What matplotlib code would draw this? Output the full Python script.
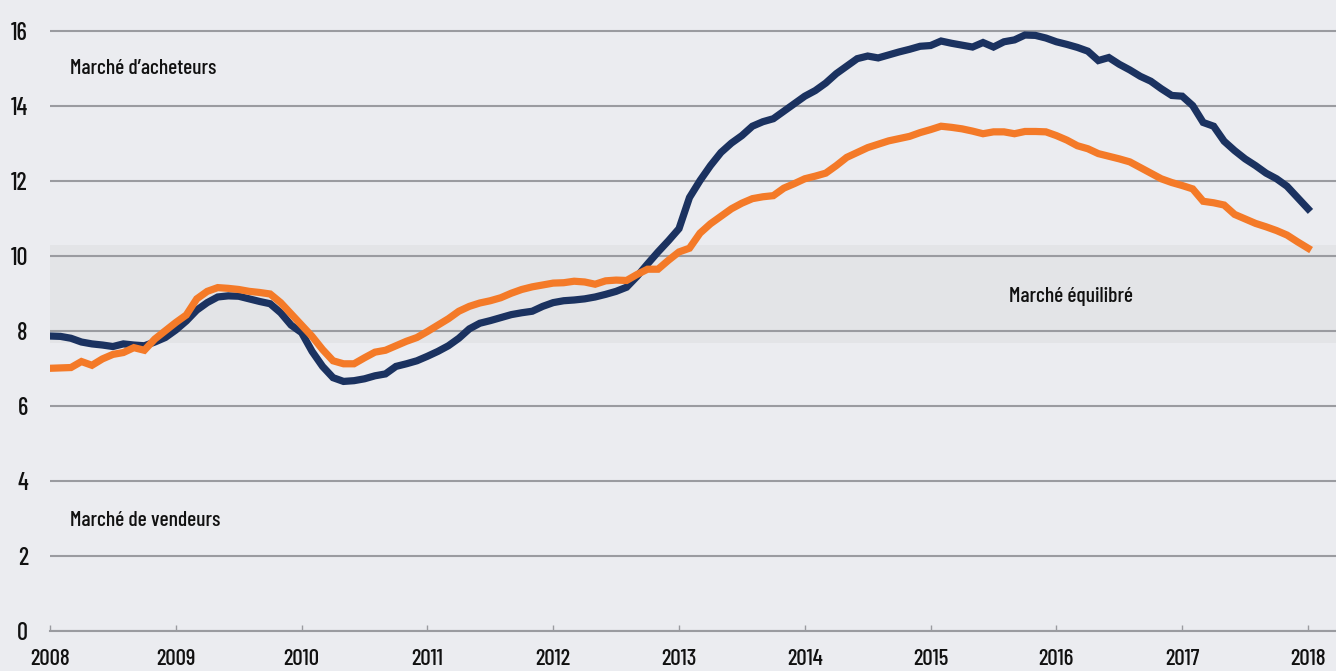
import matplotlib
matplotlib.use("Agg")
import matplotlib.pyplot as plt
import numpy as np

plt.rcParams['font.family'] = ['Barlow Condensed', 'DejaVu Sans']
plt.rcParams['font.weight'] = 'medium'

# Monthly series, Jan 2008 .. Jan 2018
navy_vals = [
    7.86, 7.85, 7.80, 7.70, 7.65, 7.62, 7.58, 7.65, 7.62, 7.60, 7.70, 7.82,   # 2008
    8.02, 8.26, 8.55, 8.75, 8.90, 8.93, 8.92, 8.85, 8.78, 8.72, 8.48, 8.15,   # 2009
    7.95, 7.45, 7.05, 6.75, 6.65, 6.67, 6.72, 6.80, 6.85, 7.05, 7.12, 7.20,   # 2010
    7.32, 7.45, 7.60, 7.80, 8.05, 8.20, 8.27, 8.35, 8.43, 8.48, 8.52, 8.65,   # 2011
    8.75, 8.80, 8.82, 8.85, 8.90, 8.97, 9.05, 9.16, 9.45, 9.78, 10.10, 10.40, # 2012
    10.72, 11.55, 12.00, 12.40, 12.75, 13.00, 13.20, 13.45, 13.57, 13.65, 13.85, 14.05,  # 2013
    14.25, 14.40, 14.60, 14.85, 15.05, 15.25, 15.32, 15.27, 15.35, 15.43, 15.50, 15.58,  # 2014
    15.60, 15.72, 15.66, 15.61, 15.56, 15.68, 15.56, 15.70, 15.75, 15.88, 15.87, 15.80,  # 2015
    15.70, 15.63, 15.55, 15.45, 15.20, 15.28, 15.10, 14.95, 14.78, 14.65, 14.45, 14.27,  # 2016
    14.25, 14.00, 13.55, 13.45, 13.05, 12.80, 12.58, 12.40, 12.20, 12.05, 11.85, 11.55,  # 2017
    11.25,                                                                                  # 2018
]
orange_vals = [
    7.00, 7.01, 7.02, 7.18, 7.08, 7.25, 7.37, 7.42, 7.55, 7.48, 7.78, 8.00,   # 2008
    8.22, 8.42, 8.85, 9.05, 9.15, 9.13, 9.10, 9.05, 9.02, 8.98, 8.75, 8.45,   # 2009
    8.15, 7.85, 7.50, 7.20, 7.12, 7.12, 7.28, 7.43, 7.48, 7.60, 7.72, 7.82,   # 2010
    7.98, 8.15, 8.32, 8.52, 8.65, 8.74, 8.80, 8.88, 9.00, 9.10, 9.17, 9.22,   # 2011
    9.27, 9.28, 9.32, 9.30, 9.24, 9.33, 9.35, 9.34, 9.50, 9.64, 9.64, 9.88,   # 2012
    10.10, 10.20, 10.60, 10.85, 11.05, 11.25, 11.40, 11.52, 11.57, 11.60, 11.80, 11.92,  # 2013
    12.05, 12.12, 12.20, 12.40, 12.62, 12.75, 12.88, 12.97, 13.06, 13.12, 13.18, 13.28,  # 2014
    13.36, 13.45, 13.42, 13.38, 13.32, 13.25, 13.30, 13.30, 13.25, 13.31, 13.31, 13.30,  # 2015
    13.20, 13.08, 12.93, 12.85, 12.72, 12.65, 12.58, 12.50, 12.35, 12.20, 12.05, 11.95,  # 2016
    11.87, 11.78, 11.45, 11.41, 11.35, 11.10, 10.98, 10.86, 10.77, 10.67, 10.55, 10.37,  # 2017
    10.20,                                                                                  # 2018
]
start_year = 2008
year_ticks = list(range(2008, 2019))
y_ticks = [0, 2, 4, 6, 8, 10, 12, 14, 16]
band_low, band_high = 7.68, 10.28
label_buyers = "Marché d\u2019acheteurs"
label_sellers = "Marché de vendeurs"
label_balanced = "Marché équilibré"

x = start_year + np.arange(len(navy_vals)) / 12.0

BG = "#ebecf0"
BAND = "#e3e4e7"
GRID = "#9a9ba0"
NAVY = "#1b3260"
ORANGE = "#f47a28"
TXT = "#111111"

W, H = 1336, 671
fig = plt.figure(figsize=(W / 100, H / 100), dpi=100, facecolor=BG)
ax_left_px, ax_bottom_px = 50, 631
ax = fig.add_axes([ax_left_px / W, (H - ax_bottom_px) / H, 1 - ax_left_px / W, ax_bottom_px / H])
ax.set_facecolor(BG)

px_per_year = 125.8
px_per_unit = 37.53
ax.set_xlim(2008, 2008 + (W - ax_left_px) / px_per_year)
ax.set_ylim(0, ax_bottom_px / px_per_unit)

ax.axhspan(band_low, band_high, color=BAND, zorder=0, lw=0)

ax.set_yticks(y_ticks)
ax.set_xticks(year_ticks)
ax.grid(axis='y', color=GRID, lw=1.5, zorder=1)
ax.grid(axis='x', visible=False)
for s in ['top', 'right', 'left']:
    ax.spines[s].set_visible(False)
ax.spines['bottom'].set_color(GRID)
ax.spines['bottom'].set_linewidth(1.5)

ax.tick_params(axis='y', length=0, pad=16, labelsize=17.5, labelcolor=TXT)
ax.tick_params(axis='x', direction='in', length=4, width=1, color=GRID, pad=13,
               labelsize=16.5, labelcolor=TXT)

ax.plot(x, navy_vals, color=NAVY, lw=5.2, zorder=3, solid_joinstyle='miter')
ax.plot(x, orange_vals, color=ORANGE, lw=5.2, zorder=4, solid_joinstyle='miter')

ax.text(2008.16, 14.99, label_buyers, fontsize=15.5, va='center', ha='left', color=TXT)
ax.text(2008.16, 2.95, label_sellers, fontsize=15.5, va='center', ha='left', color=TXT)
ax.text(2016.12, 8.92, label_balanced, fontsize=15.5, va='center', ha='center', color=TXT)

fig.savefig("out.png", dpi=100, facecolor=BG)
